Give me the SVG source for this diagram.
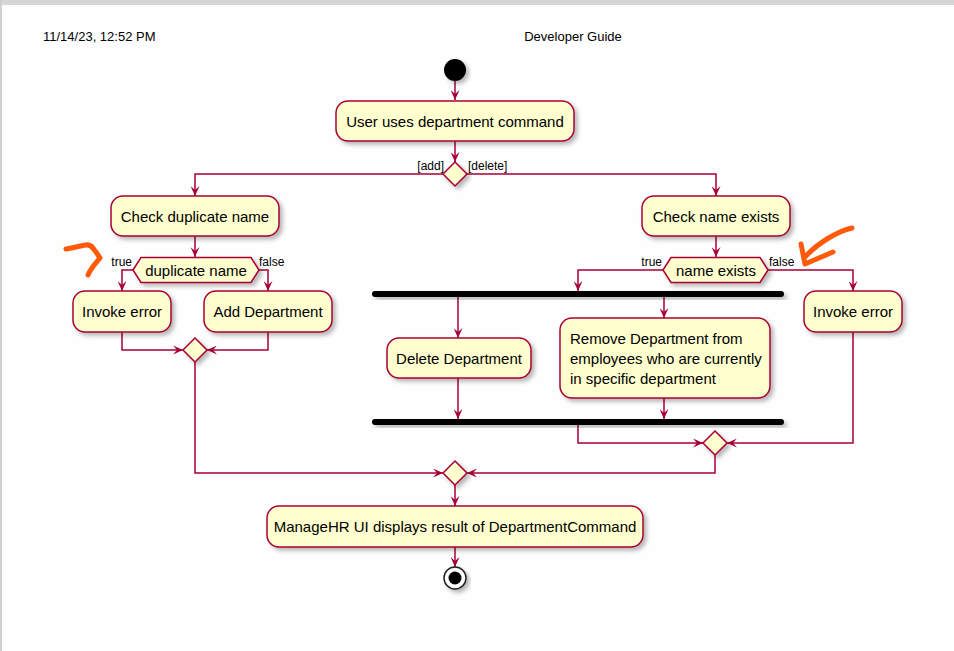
<svg xmlns="http://www.w3.org/2000/svg" width="954" height="651" viewBox="0 0 954 651">
<style>
.act{fill:#FEFECE;stroke:#A80036;stroke-width:1.5;filter:url(#sh)}
.t{font-family:"Liberation Sans",Arial,sans-serif;font-size:15px;fill:#000}
.c{text-anchor:middle}
.lb{font-family:"Liberation Sans",Arial,sans-serif;font-size:12px;fill:#000}
.hd{font-family:"Liberation Sans",Arial,sans-serif;font-size:13px;fill:#000}
.ln{fill:none;stroke:#A80036;stroke-width:1.5}
.ar{marker-end:url(#ah)}
.bar{fill:#000;filter:url(#sh)}
.mark{fill:none;stroke:#FF5A0A;stroke-width:5;stroke-linecap:round;stroke-linejoin:round}
</style>
<defs>
<filter id="sh" x="-20%" y="-40%" width="140%" height="180%">
<feDropShadow dx="3" dy="3" stdDeviation="2" flood-color="#000" flood-opacity="0.28"/>
</filter>
<marker id="ah" markerUnits="userSpaceOnUse" markerWidth="11" markerHeight="9" refX="10" refY="4.5" orient="auto">
<path d="M0,0 L10,4.5 L0,9 L4,4.5 Z" fill="#A80036"/>
</marker>
</defs>
<rect x="0" y="0" width="954" height="651" fill="#fefefe"/>
<rect x="0" y="0" width="954" height="5" fill="#d6d6d6"/>
<rect x="0" y="0" width="2" height="651" fill="#d0d0d0"/>
<text class="hd" x="43" y="41">11/14/23, 12:52 PM</text>
<text class="hd c" x="573" y="41">Developer Guide</text>

<g id="connectors">
<path class="ln ar" d="M455,81 V100"/>
<path class="ln ar" d="M455,141 V162"/>
<path class="ln ar" d="M443,174 H195 V196"/>
<path class="ln ar" d="M467,174 H716 V196"/>
<path class="ln ar" d="M195,236 V257"/>
<path class="ln ar" d="M133,270 H122 V291"/>
<path class="ln ar" d="M259,270 H268 V291"/>
<path class="ln ar" d="M122,332 V350 H183"/>
<path class="ln ar" d="M268,332 V350 H207"/>
<path class="ln ar" d="M195,362 V473 H443"/>
<path class="ln ar" d="M716,236 V257"/>
<path class="ln ar" d="M663,270 H578 V291"/>
<path class="ln ar" d="M768,270 H853 V291"/>
<path class="ln ar" d="M458,297 V338"/>
<path class="ln ar" d="M664,297 V318"/>
<path class="ln ar" d="M458,378 V419"/>
<path class="ln ar" d="M664,398 V419"/>
<path class="ln ar" d="M578,425 V443 H703"/>
<path class="ln ar" d="M853,332 V443 H727"/>
<path class="ln ar" d="M715,455 V473 H467"/>
<path class="ln ar" d="M455,485 V506"/>
<path class="ln ar" d="M455,547 V567"/>
<text class="lb" x="444" y="170" text-anchor="end">[add]</text>
<text class="lb" x="468" y="170">[delete]</text>
<text class="lb" x="132" y="266" text-anchor="end">true</text>
<text class="lb" x="259" y="266">false</text>
<text class="lb" x="662" y="266" text-anchor="end">true</text>
<text class="lb" x="769" y="266">false</text>
</g>

<g id="start"><circle cx="455" cy="70" r="11" fill="#000" filter="url(#sh)"/></g>

<g id="userCommand">
<rect class="act" x="336" y="101" width="238" height="40" rx="12"/>
<text class="t c" x="455" y="126.5">User uses department command</text>
</g>

<g id="decision1"><polygon class="act" points="455,162 467,174 455,186 443,174"/></g>

<g id="checkDuplicate">
<rect class="act" x="111" y="196" width="168" height="40" rx="12"/>
<text class="t c" x="195" y="221.5">Check duplicate name</text>
</g>

<g id="duplicateName">
<polygon class="act" points="133,270 141,257.5 251,257.5 259,270 251,282.5 141,282.5"/>
<text class="t c" x="196" y="275.5">duplicate name</text>
</g>

<g id="invokeError1">
<rect class="act" x="73" y="291" width="98" height="41" rx="12"/>
<text class="t c" x="122" y="317">Invoke error</text>
</g>

<g id="addDepartment">
<rect class="act" x="204" y="291" width="128" height="41" rx="12"/>
<text class="t c" x="268" y="317">Add Department</text>
</g>

<g id="mergeLeft"><polygon class="act" points="195,338 207,350 195,362 183,350"/></g>

<g id="checkNameExists">
<rect class="act" x="642" y="196" width="148" height="40" rx="12"/>
<text class="t c" x="716" y="221.5">Check name exists</text>
</g>

<g id="nameExists">
<polygon class="act" points="663,270 671,257.5 760,257.5 768,270 760,282.5 671,282.5"/>
<text class="t c" x="716" y="275.5">name exists</text>
</g>

<g id="invokeError2">
<rect class="act" x="804" y="291" width="98" height="41" rx="12"/>
<text class="t c" x="853" y="317">Invoke error</text>
</g>

<g id="forkBar"><rect class="bar" x="372" y="291" width="412" height="6" rx="3"/></g>

<g id="deleteDepartment">
<rect class="act" x="387" y="338" width="144" height="40" rx="12"/>
<text class="t c" x="459" y="363.5">Delete Department</text>
</g>

<g id="removeDepartment">
<rect class="act" x="560" y="318" width="210" height="80" rx="12"/>
<text class="t" x="570" y="344">Remove Department from</text>
<text class="t" x="570" y="364">employees who are currently</text>
<text class="t" x="570" y="384">in specific department</text>
</g>

<g id="joinBar"><rect class="bar" x="372" y="419" width="412" height="6" rx="3"/></g>

<g id="mergeRight"><polygon class="act" points="715,431 727,443 715,455 703,443"/></g>

<g id="mergeFinal"><polygon class="act" points="455,461 467,473 455,485 443,473"/></g>

<g id="displayResult">
<rect class="act" x="267" y="506" width="376" height="41" rx="12"/>
<text class="t c" x="455" y="532">ManageHR UI displays result of DepartmentCommand</text>
</g>

<g id="end">
<circle cx="455" cy="578" r="11" fill="#fff" stroke="#222" stroke-width="1.5" filter="url(#sh)"/>
<circle cx="455" cy="578" r="6.5" fill="#000"/>
</g>

<g id="annotations">
<path class="mark" d="M66,249 C72,248 80,246 86,245 C92,244 93,249 96,252 L100,258 C96,263 91,268 88,275"/>
<path class="mark" d="M852,228 C838,231 818,243 806,256"/>
<path class="mark" d="M801,244 L805,264 L833,252"/>
</g>
</svg>
